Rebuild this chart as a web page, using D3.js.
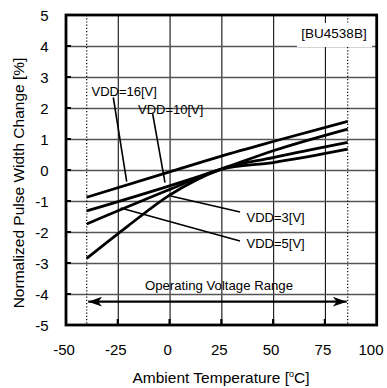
<!DOCTYPE html>
<html><head><meta charset="utf-8">
<script src="https://cdn.jsdelivr.net/npm/d3@7"></script>
<style>body{margin:0;background:#fff}svg{display:block}text{font-family:"Liberation Sans",Arial,sans-serif;fill:#000}</style>
</head><body>
<script>
const xTicks = [-50, -25, 0, 25, 50, 75, 100];
const yTicks = [5, 4, 3, 2, 1, 0, -1, -2, -3, -4, -5];
const temps16 = [-40, 0, 25, 50, 86];
const vdd16 = [-0.88, -0.06, 0.45, 0.92, 1.57];
const temps10 = [-40, 0, 25, 50, 86];
const vdd10 = [-1.32, -0.51, 0.03, 0.62, 1.32];
const temps5 = [-40, 0, 25, 50, 86];
const vdd5 = [-1.74, -0.63, 0.03, 0.24, 0.67];
const temps3 = [-40, -20, 0, 25, 50, 86];
const vdd3 = [-2.85, -1.80, -0.81, 0.03, 0.40, 0.89];
const opRange = [-40, 86];

const W = 387, H = 388;
const svg = d3.select("body").append("svg").attr("width", W).attr("height", H);
const x = d3.scaleLinear().domain([-50, 100]).range([66, 376.7]);
const y = d3.scaleLinear().domain([-5, 5]).range([325, 15]);

// grid via axes
const xGrid = d3.axisBottom(x).tickValues(xTicks.slice(1, -1)).tickSize(-(y(-5) - y(5))).tickFormat("");
svg.append("g").attr("transform", `translate(0,${y(-5)})`).call(xGrid)
  .call(g => g.select(".domain").remove())
  .call(g => g.selectAll(".tick line").attr("stroke", "#111").attr("stroke-width", 1.1));
const yGrid = d3.axisLeft(y).tickValues(yTicks.slice(1, -1)).tickSize(-(x(100) - x(-50))).tickFormat("");
svg.append("g").attr("transform", `translate(${x(-50)},0)`).call(yGrid)
  .call(g => g.select(".domain").remove())
  .call(g => g.selectAll(".tick line").attr("stroke", "#555").attr("stroke-width", 1.4));

// dotted op range lines
opRange.forEach(d => {
  svg.append("line").attr("x1", x(d)).attr("x2", x(d)).attr("y1", y(5)).attr("y2", y(-5))
    .attr("stroke", "#000").attr("stroke-width", 1.2).attr("stroke-dasharray", "1.2,2");
});

// inner tick stubs
xTicks.slice(1, -1).forEach(d => {
  svg.append("line").attr("x1", x(d)).attr("x2", x(d)).attr("y1", y(-5)).attr("y2", y(-5) - 6)
    .attr("stroke", "#000").attr("stroke-width", 2.2);
});
yTicks.slice(1, -1).forEach(d => {
  svg.append("line").attr("x1", x(-50)).attr("x2", x(-50) + 5).attr("y1", y(d)).attr("y2", y(d))
    .attr("stroke", "#000").attr("stroke-width", 2);
});

// label box
svg.append("rect").attr("x", 297).attr("y", 23).attr("width", 75).attr("height", 24).attr("fill", "#fff");
svg.append("text").attr("x", 334).attr("y", 37.5).attr("text-anchor", "middle").attr("font-size", 13.5).text("[BU4538B]");

// curves
const line = d3.line().x(d => x(d[0])).y(d => y(d[1])).curve(d3.curveMonotoneX);
const series = [
  d3.zip(temps16, vdd16), d3.zip(temps10, vdd10), d3.zip(temps5, vdd5), d3.zip(temps3, vdd3)
];
series.forEach(s => {
  svg.append("path").attr("d", line(s)).attr("fill", "none").attr("stroke", "#000").attr("stroke-width", 2.8);
});

// pointer lines + labels
function ptr(x1, y1, x2, y2) {
  svg.append("line").attr("x1", x1).attr("y1", y1).attr("x2", x2).attr("y2", y2)
    .attr("stroke", "#000").attr("stroke-width", 1.6);
}
ptr(113.3, 97.5, 126.7, 181.7);
ptr(152.7, 114, 165, 182.7);
ptr(170.7, 196, 240, 212);
ptr(120.7, 208, 240, 241);
const fs = 13;
svg.append("text").attr("x", 91.5).attr("y", 95.5).attr("font-size", fs).text("VDD=16[V]");
svg.append("text").attr("x", 138).attr("y", 113.5).attr("font-size", fs).text("VDD=10[V]");
svg.append("text").attr("x", 246.5).attr("y", 222).attr("font-size", fs).text("VDD=3[V]");
svg.append("text").attr("x", 246.5).attr("y", 248).attr("font-size", fs).text("VDD=5[V]");

// operating range
svg.append("text").attr("x", 219).attr("y", 289.5).attr("text-anchor", "middle").attr("font-size", 13.2).text("Operating Voltage Range");
svg.append("defs").append("marker").attr("id", "ah").attr("viewBox", "0 0 14 10")
  .attr("refX", 14).attr("refY", 5).attr("markerWidth", 14).attr("markerHeight", 10)
  .attr("markerUnits", "userSpaceOnUse").attr("orient", "auto-start-reverse")
  .append("path").attr("d", "M0,0 L14,5 L0,10 L4,5 Z").attr("fill", "#000");
svg.append("line").attr("x1", x(opRange[0]) + 1.5).attr("x2", x(opRange[1]) - 1)
  .attr("y1", 301.7).attr("y2", 301.7).attr("stroke", "#000").attr("stroke-width", 2.2)
  .attr("marker-start", "url(#ah)").attr("marker-end", "url(#ah)");

// frame
svg.append("rect").attr("x", x(-50)).attr("y", y(5)).attr("width", x(100) - x(-50)).attr("height", y(-5) - y(5))
  .attr("fill", "none").attr("stroke", "#000").attr("stroke-width", 2.8);

// tick labels
xTicks.forEach(d => {
  const cx = d === 100 ? 371 : x(d) - 2;
  svg.append("text").attr("x", cx).attr("y", 355).attr("text-anchor", "middle").attr("font-size", 15).text(d);
});
yTicks.forEach(d => {
  svg.append("text").attr("x", 48.5).attr("y", y(d) + 5.5).attr("text-anchor", "end").attr("font-size", 15).text(d);
});

// axis titles
svg.append("text").attr("x", 221).attr("y", 382.5).attr("text-anchor", "middle").attr("font-size", 15.5)
  .html('Ambient Temperature [<tspan font-size="9" dy="-6">o</tspan><tspan dy="6">C]</tspan>');
svg.append("text").attr("transform", "translate(24,183) rotate(-90)").attr("text-anchor", "middle").attr("font-size", 15.5)
  .text("Normalized Pulse Width Change [%]");
</script>
</body></html>
